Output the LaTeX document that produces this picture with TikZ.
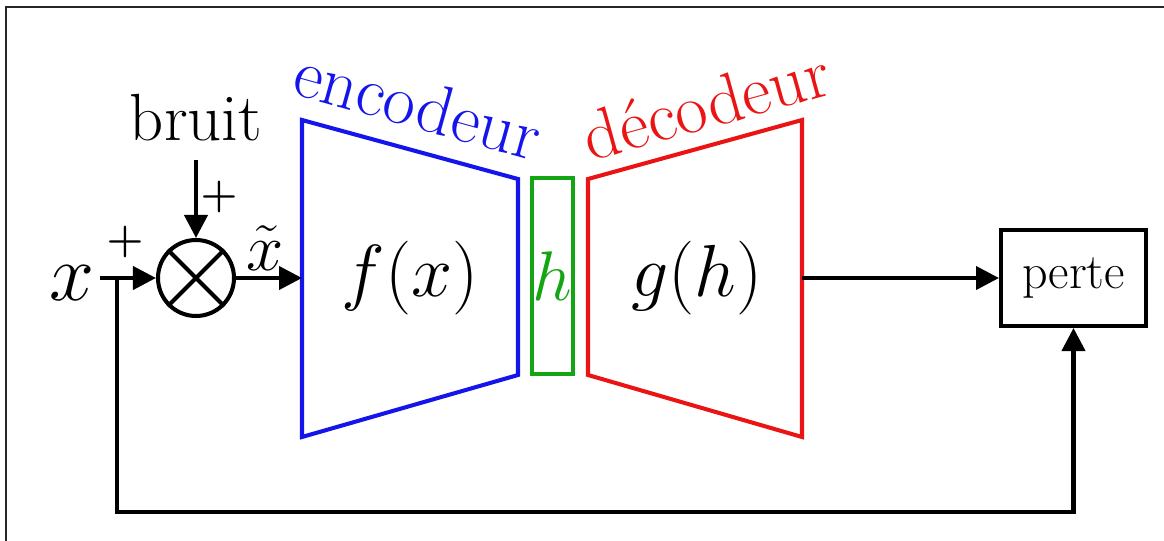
\RequirePackage{fix-cm}
\documentclass[tikz,border=0pt]{standalone}
\usepackage{amsmath}
\usepackage{fontspec}
\usepackage{tikz}
\usetikzlibrary{arrows.meta}
\definecolor{encblue}{RGB}{20,20,235}
\definecolor{decred}{RGB}{235,20,20}
\definecolor{codegreen}{RGB}{20,165,20}

\begin{document}
\begin{tikzpicture}[
    x=0.02cm, y=-0.02cm,
    wire/.style={line width=2.3pt, draw=black},
    arrow/.style={wire, -{Triangle[length=0.46cm,width=0.46cm]}},
    sumnode/.style={
      circle, draw=black, line width=2.3pt,
      minimum size=1.52cm, inner sep=0pt
    },
    lossbox/.style={
      rectangle, draw=black, line width=2.3pt,
      minimum width=2.9cm, minimum height=1.92cm,
      font=\fontsize{28.5}{32}\selectfont
    },
    codebox/.style={
      rectangle, draw=codegreen, line width=2.3pt,
      minimum width=0.82cm, minimum height=3.92cm, inner sep=0pt
    },
    trap/.style={line width=2.3pt, line join=miter},
    lbl/.style={inner sep=0pt, font=\fontsize{38}{44}\selectfont},
    sign/.style={inner sep=0pt},
    mathlbl/.style={inner sep=0pt, font=\fontsize{42}{50}\selectfont}
  ]
  \useasboundingbox (0,0) rectangle (1164,541);
  \draw[line width=1.2pt, black!85] (6,541) -- (6,7) -- (1164,7);

  % corners of encoder and decoder
  \coordinate (enc-tl) at (302,120);
  \coordinate (enc-bl) at (302,437);
  \coordinate (enc-tr) at (518,179);
  \coordinate (enc-br) at (518,375);
  \coordinate (dec-tl) at (588,179);
  \coordinate (dec-bl) at (588,375);
  \coordinate (dec-tr) at (802,120);
  \coordinate (dec-br) at (802,437);
  \coordinate (enc-in) at (302,278);
  \coordinate (dec-out) at (802,278);

  \draw[trap, encblue] (enc-tl) -- (enc-tr) -- (enc-br) -- (enc-bl) -- cycle;
  \draw[trap, decred] (dec-tl) -- (dec-tr) -- (dec-br) -- (dec-bl) -- cycle;
  \node[codebox] (code) at (552.5,276) {\fontsize{40}{46}\selectfont\color{codegreen}$h$};

  \node[mathlbl] (enc) at (410,278) {$f(x)$};
  \node[mathlbl] (dec) at (697,278) {$g(h)$};
  \node[lbl, encblue, rotate=-15.5, font=\fontsize{40}{46}\selectfont] (enclbl) at (418,104) {encodeur};
  \node[lbl, decred, rotate=15.5, font=\fontsize{40}{46}\selectfont] (declbl) at (706,104) {décodeur};

  % input and noise
  \node[mathlbl, font=\fontsize{46}{50}\selectfont, anchor=base] (xin) at (72,300) {$x$};
  \node[sumnode] (sum) at (196,278) {};
  \draw[wire] (sum.north west) -- (sum.south east);
  \draw[wire] (sum.north east) -- (sum.south west);
  \node[lbl, anchor=base] (noise) at (196,140) {bruit};
  \node[sign] (plusx) at (125,242) {\fontsize{24}{28}\selectfont$\boldsymbol{+}$};
  \node[sign] (plusn) at (219,197) {\fontsize{24}{28}\selectfont$\boldsymbol{+}$};
  \node[mathlbl, font=\fontsize{38}{44}\selectfont, anchor=base] (xt) at (265,270) {$\tilde{x}$};

  \node[lossbox] (perte) at (1073.5,278) {perte};

  \coordinate (xout) at (100,278);
  \coordinate (split) at (117,278);
  \coordinate (fb) at (117,512);

  \draw[arrow] (xout) -- (sum.west);
  \draw[arrow] ([yshift=-0.4cm]noise.base) -- (sum.north);
  \draw[arrow] (sum.east) -- (enc-in);
  \draw[arrow] (dec-out) -- (perte.west);
  \draw[arrow] (split) -- (fb) -| (perte.south);
\end{tikzpicture}
\end{document}
